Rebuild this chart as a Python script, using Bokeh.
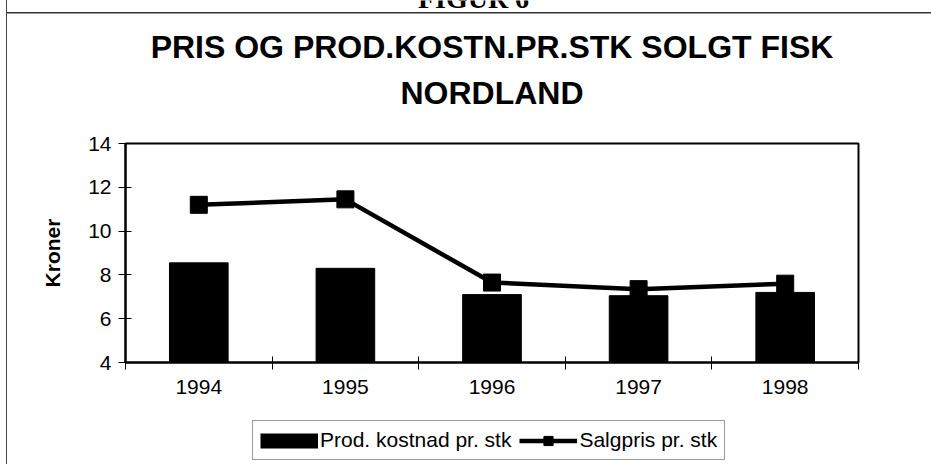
from bokeh.plotting import figure
from bokeh.layouts import column
from bokeh.models import (FixedTicker, Legend, LegendItem, Label,
                          ColumnDataSource, Range1d)
from bokeh.embed import file_html
from bokeh.resources import INLINE

# ---- data -------------------------------------------------------------
years = ["1994", "1995", "1996", "1997", "1998"]
prod_kostnad = [8.55, 8.3, 7.1, 7.05, 7.2]      # bars
salgpris = [11.2, 11.45, 7.65, 7.35, 7.6]       # line
y_ticks = [4, 6, 8, 10, 12, 14]
figure_label = "FIGUR 6"
title_lines = ["PRIS OG PROD.KOSTN.PR.STK SOLGT FISK", "NORDLAND"]
y_label = "Kroner"
legend_labels = ["Prod. kostnad pr. stk", "Salgpris pr. stk"]

FONT = "Liberation Sans"
W = 924

xs = list(range(1, len(years) + 1))
src = ColumnDataSource(dict(x=xs, year=years, kost=prod_kostnad, pris=salgpris))


def blank_fig(height, y_range=(0, 1)):
    f = figure(width=W, height=height, output_backend="svg", toolbar_location=None,
               x_axis_location=None, y_axis_location=None, min_border=0,
               x_range=Range1d(0, 1), y_range=Range1d(*y_range))
    f.outline_line_color = None
    f.grid.visible = False
    return f


# ---- header (caption, frame line, two-line title) ----------------------
H_HEAD = 130
head = blank_fig(H_HEAD)
head.background_fill_alpha = 0
head.border_fill_alpha = 0
head.styles = {"background-color": "white",
               "background-image": "linear-gradient(#333333, #333333)",
               "background-size": "100% 1.5px",
               "background-position": "0px 12px",
               "background-repeat": "no-repeat"}
head.add_layout(Label(x=348, y=H_HEAD + 2, x_units="screen", y_units="screen",
                      text=figure_label, text_align="center",
                      text_baseline="alphabetic", text_font="Liberation Serif",
                      text_font_size="28px", text_font_style="bold",
                      text_color="black"))
for txt, yy in zip(title_lines, [84, 38]):
    head.add_layout(Label(x=366.5, y=yy, x_units="screen", y_units="screen",
                          text=txt, text_align="center",
                          text_baseline="alphabetic", text_font=FONT,
                          text_font_size="32px", text_font_style="bold",
                          text_color="black"))

# ---- main chart -------------------------------------------------------
p = figure(width=W, height=275, output_backend="svg", toolbar_location=None,
           x_range=Range1d(0.5, len(years) + 0.5),
           y_range=Range1d(y_ticks[0], y_ticks[-1]),
           min_border_left=118, min_border_right=73,
           min_border_top=13, min_border_bottom=43)
p.background_fill_color = "white"
p.border_fill_color = "white"
p.outline_line_color = "black"
p.outline_line_width = 2
p.xgrid.visible = False
p.ygrid.visible = False

bars = p.vbar(x="x", top="kost", width=0.4, source=src,
              fill_color="black", line_color="black")
line = p.line(x="x", y="pris", source=src, line_width=4.5, line_color="black")
pts = p.scatter(x="x", y="pris", source=src, marker="square", size=17,
                fill_color="black", line_color="black")

xax = p.xaxis[0]
xax.ticker = FixedTicker(ticks=xs,
                         minor_ticks=[x - 0.5 for x in xs] + [xs[-1] + 0.5])
xax.major_label_overrides = {x: y for x, y in zip(xs, years)}
xax.major_tick_line_color = None
xax.minor_tick_line_color = "black"
xax.minor_tick_in = 6
xax.minor_tick_out = 7
xax.axis_line_color = "black"
xax.axis_line_width = 2
xax.major_label_text_font = FONT
xax.major_label_text_font_size = "21px"
xax.major_label_text_color = "black"
xax.major_label_standoff = 10

yax = p.yaxis[0]
yax.ticker = FixedTicker(ticks=y_ticks)
yax.minor_tick_line_color = None
yax.major_tick_in = 6
yax.major_tick_out = 7
yax.major_tick_line_color = "black"
yax.axis_line_color = "black"
yax.axis_line_width = 2
yax.major_label_text_font = FONT
yax.major_label_text_font_size = "21px"
yax.major_label_text_color = "black"
yax.major_label_standoff = 7
yax.axis_label = y_label
yax.axis_label_text_font = FONT
yax.axis_label_text_font_size = "21px"
yax.axis_label_text_font_style = "bold"
yax.axis_label_text_color = "black"
yax.axis_label_standoff = 21

# ---- legend strip below the chart --------------------------------------
# legend swatches reuse the series (kept outside this strip's visible range)
H_LEG = 59
leg = blank_fig(H_LEG, y_range=(-2, -1))
leg.background_fill_color = "white"
leg.border_fill_color = "white"
lb = leg.line(x="x", y="kost", source=src, line_width=15, line_color="black",
              line_cap="butt")
ll = leg.line(x="x", y="pris", source=src, line_width=4.5, line_color="black")
lp = leg.scatter(x="x", y="pris", source=src, marker="square", size=17,
                 fill_color="black", line_color="black")
legend = Legend(items=[LegendItem(label=legend_labels[0], renderers=[lb]),
                       LegendItem(label=legend_labels[1], renderers=[ll, lp])],
                orientation="horizontal", location=(127, 4),
                glyph_width=58, glyph_height=23, padding=7, spacing=8,
                label_standoff=2, label_text_font=FONT,
                label_text_font_size="21px", label_text_color="black",
                border_line_color="#333333", border_line_width=1.5,
                background_fill_color="white", background_fill_alpha=1,
                margin=0)
leg.add_layout(legend)

layout = column(head, p, leg, margin=(0, 0, 0, 6), spacing=0)
layout.styles = {"border-left": "1px solid #444444"}

open("out.html", "w").write(file_html(layout, INLINE))
